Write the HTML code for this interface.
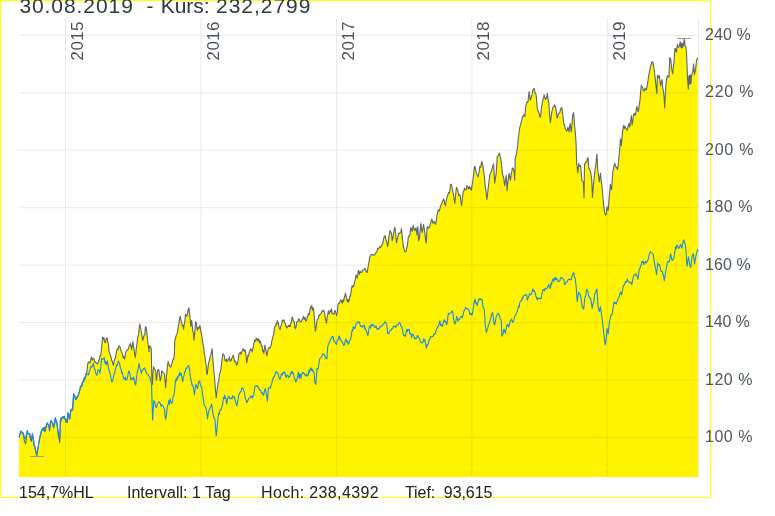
<!DOCTYPE html>
<html><head><meta charset="utf-8"><title>Chart</title>
<style>
html,body{margin:0;padding:0;background:#fff;}
body{width:775px;height:516px;overflow:hidden;position:relative;font-family:"Liberation Sans",sans-serif;}
svg{position:absolute;left:0;top:0;will-change:transform;}
text{font-family:"Liberation Sans",sans-serif;}
</style></head><body>
<svg width="775" height="516" viewBox="0 0 775 516">
<g stroke="#e9e9e9" stroke-width="1">
<line x1="19" y1="35.40" x2="698" y2="35.40"/>
<line x1="19" y1="92.83" x2="698" y2="92.83"/>
<line x1="19" y1="150.26" x2="698" y2="150.26"/>
<line x1="19" y1="207.69" x2="698" y2="207.69"/>
<line x1="19" y1="265.12" x2="698" y2="265.12"/>
<line x1="19" y1="322.55" x2="698" y2="322.55"/>
<line x1="19" y1="379.98" x2="698" y2="379.98"/>
<line x1="19" y1="437.41" x2="698" y2="437.41"/>
<line x1="65.50" y1="18" x2="65.50" y2="477"/>
<line x1="200.95" y1="18" x2="200.95" y2="477"/>
<line x1="336.40" y1="18" x2="336.40" y2="477"/>
<line x1="471.85" y1="18" x2="471.85" y2="477"/>
<line x1="607.30" y1="18" x2="607.30" y2="477"/>
<line x1="698.5" y1="18" x2="698.5" y2="477"/>
</g>
<path d="M19.1,477 L19.1,437.4 L19.7,435.2 L20.2,434.1 L20.8,431.6 L21.4,432.0 L22.1,432.5 L22.7,433.5 L23.3,434.5 L23.9,437.4 L24.4,441.1 L25.0,442.3 L25.6,443.9 L26.2,438.9 L26.9,432.3 L27.5,433.1 L28.0,433.7 L28.6,434.0 L29.2,434.2 L29.8,433.9 L30.4,438.8 L30.9,440.2 L31.5,441.3 L32.4,434.2 L33.1,438.9 L33.7,440.3 L34.4,446.5 L35.0,446.6 L35.5,449.9 L36.1,452.7 L36.7,455.5 L37.4,451.6 L38.2,446.8 L38.9,442.6 L39.5,440.2 L40.2,435.6 L40.9,433.8 L41.5,430.3 L42.1,430.1 L42.8,428.2 L43.4,430.5 L44.0,427.7 L44.9,431.6 L45.5,429.8 L46.0,428.1 L46.6,424.5 L47.3,424.2 L48.1,424.4 L48.8,425.8 L49.6,431.0 L50.5,421.9 L51.1,421.9 L51.8,422.6 L52.4,423.2 L53.0,426.0 L53.7,427.7 L54.5,423.1 L55.3,418.0 L56.1,420.2 L56.9,423.2 L57.5,428.2 L58.2,434.8 L59.0,438.2 L59.8,442.6 L60.4,420.6 L61.0,421.2 L61.7,417.7 L62.4,418.1 L63.0,416.8 L63.6,418.0 L64.2,416.2 L64.7,418.8 L65.3,419.4 L66.0,422.1 L66.6,419.0 L67.3,422.6 L67.9,412.9 L68.5,414.2 L69.2,416.2 L69.8,418.0 L70.7,410.3 L71.4,409.1 L72.1,410.5 L72.8,409.7 L73.7,393.5 L74.3,395.3 L74.9,395.5 L75.5,399.0 L76.1,398.9 L76.7,397.6 L77.4,396.9 L78.0,396.3 L78.6,393.5 L79.2,392.1 L79.8,389.9 L80.3,386.3 L80.9,386.0 L81.5,385.5 L82.1,382.7 L82.7,381.7 L83.3,381.0 L83.9,378.3 L84.4,377.5 L85.0,377.0 L85.6,376.5 L86.4,372.5 L87.0,371.5 L87.6,364.7 L88.1,362.8 L88.7,362.0 L89.3,361.8 L89.8,363.0 L90.4,361.6 L91.0,358.1 L91.6,356.9 L92.2,360.1 L92.7,358.7 L93.3,358.9 L93.9,358.6 L94.4,361.5 L95.0,362.3 L95.5,361.8 L96.1,362.6 L96.6,363.3 L97.2,363.6 L97.8,363.9 L98.3,361.8 L98.9,360.3 L99.5,359.1 L100.0,355.5 L100.6,355.8 L101.3,351.2 L101.9,344.6 L102.6,337.2 L103.2,339.2 L103.8,337.4 L104.4,340.5 L105.0,342.6 L105.6,342.5 L106.2,338.0 L106.7,338.9 L107.3,338.0 L107.9,342.9 L108.4,343.7 L109.0,351.0 L109.6,352.7 L110.2,355.0 L110.7,356.1 L111.3,358.4 L111.8,360.6 L112.4,361.7 L112.9,364.3 L113.5,365.1 L114.1,361.5 L114.7,359.0 L115.4,358.1 L116.0,354.0 L116.6,351.2 L117.2,348.7 L117.8,349.6 L118.3,348.9 L118.9,345.7 L119.5,346.5 L120.1,346.7 L120.6,349.7 L121.2,351.2 L121.8,352.6 L122.4,353.9 L123.1,357.6 L123.7,356.2 L124.3,358.9 L124.9,358.4 L125.5,353.1 L126.1,351.5 L126.7,350.4 L127.3,349.9 L128.0,349.5 L128.6,348.0 L129.2,346.2 L129.9,344.7 L130.5,343.4 L131.6,349.6 L132.2,345.9 L132.9,341.9 L133.5,346.5 L134.1,349.4 L134.6,353.9 L135.2,357.4 L135.8,353.5 L136.3,348.1 L136.9,344.4 L137.5,338.8 L138.1,335.8 L138.7,333.9 L139.2,328.1 L139.8,324.0 L140.4,326.8 L141.0,330.1 L141.7,333.8 L142.3,338.1 L142.9,340.3 L143.5,337.3 L144.1,335.5 L144.8,334.7 L145.4,326.7 L146.0,327.1 L146.8,332.4 L147.6,340.0 L148.3,346.2 L149.1,351.6 L149.5,345.8 L150.1,346.4 L150.7,346.6 L151.3,349.3 L151.8,378.0 L152.4,384.4 L153.0,372.0 L153.6,366.9 L154.6,369.0 L155.7,371.0 L156.3,380.5 L157.0,376.0 L157.6,370.2 L158.2,370.1 L158.8,369.5 L159.6,376.0 L160.3,381.0 L161.2,376.0 L161.9,370.6 L162.5,371.8 L163.1,372.6 L163.8,373.1 L164.6,374.5 L165.6,387.6 L166.5,376.0 L167.3,367.9 L168.1,361.3 L168.9,364.0 L169.5,365.8 L170.2,366.4 L170.8,367.1 L171.4,364.8 L172.0,363.3 L173.1,359.0 L173.7,359.1 L174.3,355.5 L174.8,340.0 L175.5,338.6 L176.1,335.6 L176.8,334.3 L177.4,332.6 L178.1,327.7 L178.9,323.2 L179.6,318.6 L180.3,316.2 L180.9,320.1 L181.6,321.7 L182.3,325.6 L182.9,325.4 L183.6,329.5 L184.2,324.3 L184.9,320.3 L185.5,314.0 L186.1,315.3 L186.8,316.2 L187.4,314.7 L188.2,309.7 L188.9,307.8 L189.6,313.6 L190.2,319.8 L190.9,326.4 L191.7,320.2 L192.3,326.0 L192.8,331.6 L193.4,331.9 L194.0,340.3 L194.8,332.1 L195.6,321.7 L196.3,322.7 L196.9,328.2 L197.6,330.2 L198.2,327.2 L198.8,328.1 L199.3,328.2 L199.9,325.6 L200.5,328.8 L201.2,332.6 L201.8,335.7 L202.4,340.7 L203.0,343.9 L203.7,347.6 L204.3,353.6 L204.9,355.8 L205.5,361.8 L206.1,364.7 L206.6,373.2 L207.2,374.4 L208.0,367.1 L208.8,362.0 L209.4,360.7 L209.9,357.3 L210.5,355.6 L211.1,354.1 L211.6,351.2 L212.2,348.8 L212.9,359.9 L213.7,369.8 L214.3,374.9 L214.9,382.0 L215.6,391.7 L216.2,398.0 L216.8,392.4 L217.4,387.7 L218.1,382.7 L218.7,381.5 L219.3,375.5 L220.0,372.6 L220.8,369.7 L221.5,364.0 L222.2,357.9 L223.0,353.5 L223.6,354.9 L224.1,354.9 L224.7,358.7 L225.2,361.0 L225.8,360.5 L226.4,359.1 L227.0,361.8 L227.7,360.8 L228.3,359.0 L228.9,358.9 L229.5,356.8 L230.1,361.5 L230.6,360.0 L231.2,360.5 L231.9,357.9 L232.6,357.3 L233.3,355.0 L233.9,357.8 L234.5,361.4 L235.1,362.0 L235.7,361.1 L236.2,364.2 L236.8,365.1 L237.4,363.6 L238.2,360.0 L239.0,353.5 L239.6,353.1 L240.2,352.2 L240.7,354.2 L241.3,352.7 L242.1,350.9 L242.9,348.8 L243.5,349.4 L244.1,351.4 L244.6,349.7 L245.2,350.4 L245.9,354.4 L246.7,362.8 L247.3,359.8 L247.9,355.4 L248.5,356.2 L249.1,352.7 L249.8,351.0 L250.6,348.8 L251.4,349.7 L252.2,351.9 L252.8,349.0 L253.3,347.1 L253.9,343.3 L254.5,340.3 L255.1,341.4 L255.7,339.1 L256.2,339.9 L256.8,338.0 L257.4,340.4 L258.0,341.2 L258.5,338.9 L259.1,340.3 L259.7,342.9 L260.3,341.1 L260.9,343.6 L261.5,346.5 L262.1,345.8 L262.6,351.3 L263.2,350.2 L263.8,353.5 L264.9,345.0 L265.6,348.6 L266.2,352.0 L266.9,355.8 L267.6,351.9 L268.4,348.1 L269.2,347.5 L270.0,348.1 L270.6,345.9 L271.2,345.4 L271.9,340.7 L272.5,338.8 L273.1,335.7 L273.7,334.4 L274.2,330.4 L274.8,326.6 L275.4,325.6 L276.0,323.9 L276.6,325.0 L277.2,320.6 L277.8,321.7 L278.4,322.9 L279.0,326.9 L279.5,328.5 L280.1,329.5 L280.8,326.4 L281.6,324.3 L282.3,320.2 L282.9,321.0 L283.5,319.9 L284.1,320.0 L284.7,322.6 L285.3,323.2 L285.9,326.5 L286.4,325.9 L287.0,328.0 L287.6,326.6 L288.2,326.4 L288.9,325.1 L289.5,326.6 L290.1,326.4 L290.8,322.8 L291.4,322.6 L292.1,317.1 L292.7,317.9 L293.3,320.5 L293.8,321.5 L294.4,322.0 L294.9,327.5 L295.5,328.8 L296.1,326.5 L296.7,322.0 L297.4,321.6 L298.0,321.1 L298.6,318.7 L299.2,318.9 L299.8,321.2 L300.3,322.0 L300.9,321.8 L301.5,321.3 L302.1,319.5 L302.7,319.4 L303.3,316.4 L303.9,318.4 L304.5,319.3 L305.0,317.2 L305.6,321.0 L306.2,320.8 L306.8,319.9 L307.3,316.6 L307.9,315.6 L308.5,313.5 L309.2,314.8 L309.8,310.9 L310.5,306.9 L311.1,307.9 L311.8,305.5 L312.5,310.3 L313.1,307.9 L313.8,310.9 L314.6,321.6 L315.3,331.1 L315.9,329.5 L316.6,323.2 L317.2,319.5 L317.8,319.2 L318.4,318.7 L318.9,315.4 L319.5,315.6 L320.1,314.3 L320.7,313.6 L321.3,313.1 L321.9,310.9 L322.5,311.1 L323.0,311.1 L323.6,310.2 L324.2,311.7 L324.8,314.2 L325.4,318.6 L325.9,320.5 L326.5,323.3 L327.1,318.2 L327.8,314.0 L328.4,310.9 L329.1,314.0 L329.7,311.9 L330.4,310.2 L331.0,311.9 L331.5,308.9 L332.1,313.8 L332.7,314.0 L333.3,313.7 L333.9,314.2 L334.4,311.7 L335.0,310.2 L335.8,312.8 L336.6,315.6 L337.3,312.1 L337.9,304.9 L338.6,303.2 L339.2,303.7 L339.9,302.1 L340.6,300.0 L341.2,300.1 L341.8,302.1 L342.4,303.1 L343.0,299.5 L343.6,301.6 L344.2,298.0 L344.8,296.3 L345.4,293.1 L346.1,296.2 L346.7,298.3 L347.4,301.6 L348.0,299.4 L348.6,302.1 L349.3,299.7 L349.9,295.9 L350.5,296.2 L351.3,289.7 L352.1,285.9 L352.7,287.3 L353.2,285.6 L353.8,285.9 L354.4,282.8 L355.2,279.7 L356.0,275.0 L356.6,275.9 L357.2,278.1 L357.8,274.4 L358.3,270.4 L359.4,274.3 L360.0,271.1 L360.5,272.1 L361.1,272.4 L361.6,272.4 L362.2,271.2 L362.8,269.7 L363.3,269.8 L363.9,269.9 L364.4,269.2 L365.0,268.1 L365.7,270.4 L366.4,271.4 L367.1,272.7 L367.8,268.6 L368.4,265.0 L369.1,261.4 L369.9,256.4 L370.5,256.1 L371.0,254.6 L371.6,254.5 L372.2,254.9 L372.8,254.9 L373.4,254.8 L374.0,255.1 L374.6,254.9 L375.4,253.7 L376.1,252.6 L376.7,251.8 L377.2,250.5 L377.8,248.1 L378.4,248.7 L379.2,248.0 L380.0,246.5 L380.6,247.4 L381.1,246.2 L381.7,245.0 L382.3,244.8 L383.0,242.6 L383.7,238.1 L384.4,236.6 L385.1,235.6 L385.7,239.4 L386.4,240.7 L387.0,242.9 L387.6,246.5 L388.2,243.1 L388.9,236.7 L389.5,233.7 L390.1,230.4 L390.8,232.1 L391.4,233.1 L392.2,240.7 L392.9,237.8 L393.7,232.0 L394.3,229.4 L394.9,227.3 L395.7,233.8 L396.5,243.0 L397.2,238.7 L397.9,237.1 L398.6,233.1 L399.2,233.5 L399.7,233.0 L400.3,232.6 L400.9,231.7 L401.5,228.5 L402.1,235.3 L402.7,240.5 L403.3,246.5 L403.9,248.5 L404.5,251.2 L405.0,251.6 L405.6,251.7 L406.2,251.1 L406.7,247.1 L407.3,246.5 L407.9,241.1 L408.5,236.0 L409.2,236.1 L410.0,234.9 L410.8,227.3 L411.4,229.1 L412.0,231.4 L412.6,228.9 L413.1,225.0 L413.7,228.0 L414.3,230.2 L414.9,230.4 L415.4,228.4 L416.0,227.9 L417.0,234.9 L417.8,226.2 L418.6,240.7 L419.4,238.4 L420.1,231.4 L420.9,223.3 L421.5,228.9 L422.1,232.6 L422.9,228.3 L423.6,224.4 L424.4,229.7 L425.1,234.9 L425.7,240.9 L426.3,243.0 L427.1,226.7 L427.7,226.7 L428.2,228.4 L428.8,227.9 L429.4,227.5 L430.0,224.8 L430.6,223.3 L431.7,219.2 L432.3,220.4 L432.9,223.3 L433.5,222.5 L434.1,221.5 L434.9,223.3 L435.6,224.4 L436.3,220.7 L437.0,215.1 L437.6,213.0 L438.1,209.9 L438.7,210.5 L439.3,211.0 L439.9,209.0 L440.5,205.8 L441.1,205.2 L441.6,203.7 L442.2,202.3 L442.9,200.6 L443.5,198.8 L444.2,200.8 L444.8,204.3 L445.5,205.8 L446.1,201.2 L446.8,198.3 L447.4,195.7 L448.0,194.9 L448.6,192.5 L449.2,193.4 L449.9,189.8 L450.5,184.7 L451.2,184.1 L451.9,186.3 L452.6,191.0 L453.3,193.4 L454.1,199.0 L454.8,203.5 L455.6,195.3 L456.4,187.2 L457.0,188.7 L457.6,189.2 L458.2,192.6 L458.8,195.6 L459.5,194.8 L460.1,195.0 L460.9,201.4 L461.6,205.8 L462.4,198.0 L463.2,191.9 L463.9,190.9 L464.5,188.0 L465.2,189.5 L465.8,189.9 L466.4,189.5 L466.9,185.4 L467.5,187.2 L468.1,187.5 L468.6,188.8 L469.2,186.2 L469.8,188.8 L470.6,187.7 L471.4,190.3 L472.1,184.7 L472.9,181.0 L473.7,173.0 L474.5,166.3 L475.2,166.9 L475.8,171.0 L476.5,173.3 L477.3,175.4 L478.1,177.1 L478.7,174.2 L479.3,170.7 L479.9,166.3 L480.5,167.2 L481.0,165.8 L481.6,161.7 L482.2,162.4 L483.0,166.9 L483.8,172.5 L484.6,178.9 L485.3,187.2 L486.1,192.3 L486.9,199.6 L487.5,194.5 L488.0,189.6 L488.6,185.1 L489.2,179.5 L489.8,175.2 L490.4,173.3 L491.0,172.5 L491.6,170.2 L492.3,167.9 L492.9,165.7 L493.6,164.0 L494.7,183.3 L495.4,178.2 L496.2,173.3 L496.8,164.2 L497.3,156.2 L498.0,156.0 L498.6,154.6 L499.3,153.1 L500.1,156.1 L500.9,159.3 L501.6,165.7 L502.4,173.3 L503.0,176.2 L503.5,176.1 L504.1,181.4 L504.7,185.7 L505.4,180.5 L506.2,175.3 L507.1,190.4 L507.7,182.9 L508.4,179.2 L509.0,173.3 L509.8,176.9 L510.5,180.3 L511.1,174.5 L511.8,171.7 L512.4,167.9 L513.2,168.7 L514.0,170.2 L514.7,180.3 L515.2,158.6 L515.8,156.3 L516.5,153.6 L517.1,150.0 L517.7,144.9 L518.2,138.7 L518.8,134.5 L519.4,129.6 L520.1,126.4 L520.9,123.4 L521.7,120.6 L522.5,116.4 L523.1,116.8 L523.6,115.5 L524.2,114.7 L524.8,116.4 L525.4,110.3 L526.0,104.8 L526.6,103.2 L527.3,101.9 L527.9,102.5 L528.5,97.0 L529.1,91.6 L529.7,95.6 L530.2,100.2 L531.0,98.0 L531.8,95.5 L532.3,93.2 L532.9,90.1 L533.6,88.9 L534.4,88.5 L535.2,93.6 L536.0,94.0 L536.6,100.3 L537.2,107.1 L538.0,111.0 L538.8,112.6 L539.4,114.3 L540.0,116.9 L540.6,117.2 L541.4,107.9 L542.2,103.3 L542.9,99.5 L543.5,97.9 L544.2,94.7 L545.3,99.4 L546.0,98.1 L546.6,98.2 L547.3,93.2 L548.0,98.6 L548.8,103.3 L549.6,114.2 L550.4,122.6 L551.1,117.5 L551.9,111.0 L552.5,109.7 L553.0,107.1 L553.8,106.5 L554.6,104.8 L555.4,107.0 L556.1,109.5 L557.1,118.0 L557.7,117.0 L558.3,113.7 L558.9,113.3 L559.7,112.6 L560.5,109.5 L561.2,107.7 L562.0,107.9 L562.6,113.6 L563.3,118.8 L563.9,124.3 L564.5,124.7 L565.1,128.1 L565.9,129.7 L566.7,131.2 L567.3,130.1 L567.9,127.3 L568.5,129.6 L569.0,131.9 L569.5,127.1 L570.1,123.4 L570.7,127.8 L571.3,131.9 L572.0,124.3 L572.6,115.7 L573.6,112.6 L574.2,120.0 L574.7,126.5 L575.4,133.6 L576.0,142.0 L576.7,163.3 L577.8,172.6 L578.8,163.3 L579.4,166.0 L580.0,166.7 L580.6,165.6 L581.2,173.0 L581.9,180.3 L582.6,181.4 L583.4,181.9 L584.0,197.4 L584.5,164.8 L585.2,162.8 L586.0,161.7 L586.7,162.2 L587.4,158.2 L588.1,157.8 L588.7,167.1 L589.4,169.8 L590.0,170.2 L590.7,172.6 L591.8,180.3 L592.4,197.4 L593.3,186.5 L594.1,178.1 L594.9,171.0 L595.6,166.2 L596.2,161.3 L596.9,154.0 L597.7,168.7 L598.5,175.3 L599.2,181.9 L599.9,177.0 L600.5,173.3 L601.2,180.7 L602.0,186.5 L602.8,195.8 L603.6,205.1 L604.2,209.2 L604.7,212.9 L605.5,215.1 L606.2,214.4 L607.0,206.7 L607.6,209.4 L608.2,210.5 L608.8,202.0 L609.6,192.6 L610.4,184.2 L611.0,188.6 L611.6,189.6 L612.2,180.3 L612.9,171.0 L613.5,169.3 L614.1,165.1 L614.7,163.3 L615.5,165.6 L616.3,167.9 L616.9,167.4 L617.5,169.5 L618.3,164.3 L619.1,155.5 L619.8,148.3 L620.5,138.8 L621.3,145.8 L622.0,138.1 L622.6,131.5 L623.3,127.2 L623.8,125.2 L624.4,128.7 L625.0,126.6 L625.5,127.2 L626.2,128.7 L627.0,130.3 L627.7,127.6 L628.3,125.5 L629.0,123.3 L629.8,127.2 L630.6,120.3 L631.4,115.6 L632.1,124.9 L632.8,121.1 L633.4,115.4 L634.1,113.3 L634.7,114.4 L635.2,115.6 L636.0,111.3 L636.8,106.3 L637.5,109.4 L638.3,111.7 L639.1,106.1 L639.9,100.9 L640.6,92.1 L641.4,85.0 L642.1,87.0 L642.7,88.1 L643.4,90.5 L644.2,90.9 L645.0,88.1 L645.8,89.7 L646.6,89.7 L647.4,84.5 L648.1,79.6 L648.9,74.5 L649.7,70.3 L650.5,66.5 L651.2,64.1 L652.0,62.0 L652.8,61.8 L653.5,65.7 L654.3,70.3 L654.8,75.2 L655.4,79.6 L656.1,87.1 L656.9,93.6 L657.4,75.0 L658.0,75.9 L658.7,78.0 L659.3,75.7 L659.9,80.2 L660.5,85.8 L661.2,82.7 L662.0,79.6 L662.8,88.6 L663.6,92.0 L664.2,98.7 L664.7,108.0 L665.8,85.8 L666.5,80.3 L667.3,75.7 L668.1,76.5 L668.9,77.0 L669.8,57.5 L670.7,59.0 L671.7,69.0 L672.7,73.6 L673.1,69.3 L674.1,61.0 L674.9,48.6 L675.5,48.6 L676.4,52.1 L677.4,44.3 L678.1,47.4 L679.1,46.7 L679.7,44.3 L680.2,41.6 L680.7,47.0 L681.1,43.0 L681.6,48.0 L682.0,44.0 L682.5,47.8 L683.0,43.0 L683.4,46.0 L683.8,42.4 L684.4,38.9 L685.0,45.9 L685.9,46.7 L686.5,53.3 L687.0,65.0 L687.4,76.0 L687.9,83.0 L688.3,89.0 L688.8,76.0 L689.2,84.0 L689.7,75.0 L690.1,84.0 L690.6,75.0 L691.0,83.5 L691.5,76.0 L692.2,73.6 L693.0,71.3 L693.5,63.9 L694.5,74.4 L695.1,71.5 L695.7,68.0 L696.5,60.5 L697.1,58.8 L697.7,57.5 L698.0,477 Z" fill="#fff300"/>
<clipPath id="c"><path d="M19.1,477 L19.1,437.4 L19.7,435.2 L20.2,434.1 L20.8,431.6 L21.4,432.0 L22.1,432.5 L22.7,433.5 L23.3,434.5 L23.9,437.4 L24.4,441.1 L25.0,442.3 L25.6,443.9 L26.2,438.9 L26.9,432.3 L27.5,433.1 L28.0,433.7 L28.6,434.0 L29.2,434.2 L29.8,433.9 L30.4,438.8 L30.9,440.2 L31.5,441.3 L32.4,434.2 L33.1,438.9 L33.7,440.3 L34.4,446.5 L35.0,446.6 L35.5,449.9 L36.1,452.7 L36.7,455.5 L37.4,451.6 L38.2,446.8 L38.9,442.6 L39.5,440.2 L40.2,435.6 L40.9,433.8 L41.5,430.3 L42.1,430.1 L42.8,428.2 L43.4,430.5 L44.0,427.7 L44.9,431.6 L45.5,429.8 L46.0,428.1 L46.6,424.5 L47.3,424.2 L48.1,424.4 L48.8,425.8 L49.6,431.0 L50.5,421.9 L51.1,421.9 L51.8,422.6 L52.4,423.2 L53.0,426.0 L53.7,427.7 L54.5,423.1 L55.3,418.0 L56.1,420.2 L56.9,423.2 L57.5,428.2 L58.2,434.8 L59.0,438.2 L59.8,442.6 L60.4,420.6 L61.0,421.2 L61.7,417.7 L62.4,418.1 L63.0,416.8 L63.6,418.0 L64.2,416.2 L64.7,418.8 L65.3,419.4 L66.0,422.1 L66.6,419.0 L67.3,422.6 L67.9,412.9 L68.5,414.2 L69.2,416.2 L69.8,418.0 L70.7,410.3 L71.4,409.1 L72.1,410.5 L72.8,409.7 L73.7,393.5 L74.3,395.3 L74.9,395.5 L75.5,399.0 L76.1,398.9 L76.7,397.6 L77.4,396.9 L78.0,396.3 L78.6,393.5 L79.2,392.1 L79.8,389.9 L80.3,386.3 L80.9,386.0 L81.5,385.5 L82.1,382.7 L82.7,381.7 L83.3,381.0 L83.9,378.3 L84.4,377.5 L85.0,377.0 L85.6,376.5 L86.4,372.5 L87.0,371.5 L87.6,364.7 L88.1,362.8 L88.7,362.0 L89.3,361.8 L89.8,363.0 L90.4,361.6 L91.0,358.1 L91.6,356.9 L92.2,360.1 L92.7,358.7 L93.3,358.9 L93.9,358.6 L94.4,361.5 L95.0,362.3 L95.5,361.8 L96.1,362.6 L96.6,363.3 L97.2,363.6 L97.8,363.9 L98.3,361.8 L98.9,360.3 L99.5,359.1 L100.0,355.5 L100.6,355.8 L101.3,351.2 L101.9,344.6 L102.6,337.2 L103.2,339.2 L103.8,337.4 L104.4,340.5 L105.0,342.6 L105.6,342.5 L106.2,338.0 L106.7,338.9 L107.3,338.0 L107.9,342.9 L108.4,343.7 L109.0,351.0 L109.6,352.7 L110.2,355.0 L110.7,356.1 L111.3,358.4 L111.8,360.6 L112.4,361.7 L112.9,364.3 L113.5,365.1 L114.1,361.5 L114.7,359.0 L115.4,358.1 L116.0,354.0 L116.6,351.2 L117.2,348.7 L117.8,349.6 L118.3,348.9 L118.9,345.7 L119.5,346.5 L120.1,346.7 L120.6,349.7 L121.2,351.2 L121.8,352.6 L122.4,353.9 L123.1,357.6 L123.7,356.2 L124.3,358.9 L124.9,358.4 L125.5,353.1 L126.1,351.5 L126.7,350.4 L127.3,349.9 L128.0,349.5 L128.6,348.0 L129.2,346.2 L129.9,344.7 L130.5,343.4 L131.6,349.6 L132.2,345.9 L132.9,341.9 L133.5,346.5 L134.1,349.4 L134.6,353.9 L135.2,357.4 L135.8,353.5 L136.3,348.1 L136.9,344.4 L137.5,338.8 L138.1,335.8 L138.7,333.9 L139.2,328.1 L139.8,324.0 L140.4,326.8 L141.0,330.1 L141.7,333.8 L142.3,338.1 L142.9,340.3 L143.5,337.3 L144.1,335.5 L144.8,334.7 L145.4,326.7 L146.0,327.1 L146.8,332.4 L147.6,340.0 L148.3,346.2 L149.1,351.6 L149.5,345.8 L150.1,346.4 L150.7,346.6 L151.3,349.3 L151.8,378.0 L152.4,384.4 L153.0,372.0 L153.6,366.9 L154.6,369.0 L155.7,371.0 L156.3,380.5 L157.0,376.0 L157.6,370.2 L158.2,370.1 L158.8,369.5 L159.6,376.0 L160.3,381.0 L161.2,376.0 L161.9,370.6 L162.5,371.8 L163.1,372.6 L163.8,373.1 L164.6,374.5 L165.6,387.6 L166.5,376.0 L167.3,367.9 L168.1,361.3 L168.9,364.0 L169.5,365.8 L170.2,366.4 L170.8,367.1 L171.4,364.8 L172.0,363.3 L173.1,359.0 L173.7,359.1 L174.3,355.5 L174.8,340.0 L175.5,338.6 L176.1,335.6 L176.8,334.3 L177.4,332.6 L178.1,327.7 L178.9,323.2 L179.6,318.6 L180.3,316.2 L180.9,320.1 L181.6,321.7 L182.3,325.6 L182.9,325.4 L183.6,329.5 L184.2,324.3 L184.9,320.3 L185.5,314.0 L186.1,315.3 L186.8,316.2 L187.4,314.7 L188.2,309.7 L188.9,307.8 L189.6,313.6 L190.2,319.8 L190.9,326.4 L191.7,320.2 L192.3,326.0 L192.8,331.6 L193.4,331.9 L194.0,340.3 L194.8,332.1 L195.6,321.7 L196.3,322.7 L196.9,328.2 L197.6,330.2 L198.2,327.2 L198.8,328.1 L199.3,328.2 L199.9,325.6 L200.5,328.8 L201.2,332.6 L201.8,335.7 L202.4,340.7 L203.0,343.9 L203.7,347.6 L204.3,353.6 L204.9,355.8 L205.5,361.8 L206.1,364.7 L206.6,373.2 L207.2,374.4 L208.0,367.1 L208.8,362.0 L209.4,360.7 L209.9,357.3 L210.5,355.6 L211.1,354.1 L211.6,351.2 L212.2,348.8 L212.9,359.9 L213.7,369.8 L214.3,374.9 L214.9,382.0 L215.6,391.7 L216.2,398.0 L216.8,392.4 L217.4,387.7 L218.1,382.7 L218.7,381.5 L219.3,375.5 L220.0,372.6 L220.8,369.7 L221.5,364.0 L222.2,357.9 L223.0,353.5 L223.6,354.9 L224.1,354.9 L224.7,358.7 L225.2,361.0 L225.8,360.5 L226.4,359.1 L227.0,361.8 L227.7,360.8 L228.3,359.0 L228.9,358.9 L229.5,356.8 L230.1,361.5 L230.6,360.0 L231.2,360.5 L231.9,357.9 L232.6,357.3 L233.3,355.0 L233.9,357.8 L234.5,361.4 L235.1,362.0 L235.7,361.1 L236.2,364.2 L236.8,365.1 L237.4,363.6 L238.2,360.0 L239.0,353.5 L239.6,353.1 L240.2,352.2 L240.7,354.2 L241.3,352.7 L242.1,350.9 L242.9,348.8 L243.5,349.4 L244.1,351.4 L244.6,349.7 L245.2,350.4 L245.9,354.4 L246.7,362.8 L247.3,359.8 L247.9,355.4 L248.5,356.2 L249.1,352.7 L249.8,351.0 L250.6,348.8 L251.4,349.7 L252.2,351.9 L252.8,349.0 L253.3,347.1 L253.9,343.3 L254.5,340.3 L255.1,341.4 L255.7,339.1 L256.2,339.9 L256.8,338.0 L257.4,340.4 L258.0,341.2 L258.5,338.9 L259.1,340.3 L259.7,342.9 L260.3,341.1 L260.9,343.6 L261.5,346.5 L262.1,345.8 L262.6,351.3 L263.2,350.2 L263.8,353.5 L264.9,345.0 L265.6,348.6 L266.2,352.0 L266.9,355.8 L267.6,351.9 L268.4,348.1 L269.2,347.5 L270.0,348.1 L270.6,345.9 L271.2,345.4 L271.9,340.7 L272.5,338.8 L273.1,335.7 L273.7,334.4 L274.2,330.4 L274.8,326.6 L275.4,325.6 L276.0,323.9 L276.6,325.0 L277.2,320.6 L277.8,321.7 L278.4,322.9 L279.0,326.9 L279.5,328.5 L280.1,329.5 L280.8,326.4 L281.6,324.3 L282.3,320.2 L282.9,321.0 L283.5,319.9 L284.1,320.0 L284.7,322.6 L285.3,323.2 L285.9,326.5 L286.4,325.9 L287.0,328.0 L287.6,326.6 L288.2,326.4 L288.9,325.1 L289.5,326.6 L290.1,326.4 L290.8,322.8 L291.4,322.6 L292.1,317.1 L292.7,317.9 L293.3,320.5 L293.8,321.5 L294.4,322.0 L294.9,327.5 L295.5,328.8 L296.1,326.5 L296.7,322.0 L297.4,321.6 L298.0,321.1 L298.6,318.7 L299.2,318.9 L299.8,321.2 L300.3,322.0 L300.9,321.8 L301.5,321.3 L302.1,319.5 L302.7,319.4 L303.3,316.4 L303.9,318.4 L304.5,319.3 L305.0,317.2 L305.6,321.0 L306.2,320.8 L306.8,319.9 L307.3,316.6 L307.9,315.6 L308.5,313.5 L309.2,314.8 L309.8,310.9 L310.5,306.9 L311.1,307.9 L311.8,305.5 L312.5,310.3 L313.1,307.9 L313.8,310.9 L314.6,321.6 L315.3,331.1 L315.9,329.5 L316.6,323.2 L317.2,319.5 L317.8,319.2 L318.4,318.7 L318.9,315.4 L319.5,315.6 L320.1,314.3 L320.7,313.6 L321.3,313.1 L321.9,310.9 L322.5,311.1 L323.0,311.1 L323.6,310.2 L324.2,311.7 L324.8,314.2 L325.4,318.6 L325.9,320.5 L326.5,323.3 L327.1,318.2 L327.8,314.0 L328.4,310.9 L329.1,314.0 L329.7,311.9 L330.4,310.2 L331.0,311.9 L331.5,308.9 L332.1,313.8 L332.7,314.0 L333.3,313.7 L333.9,314.2 L334.4,311.7 L335.0,310.2 L335.8,312.8 L336.6,315.6 L337.3,312.1 L337.9,304.9 L338.6,303.2 L339.2,303.7 L339.9,302.1 L340.6,300.0 L341.2,300.1 L341.8,302.1 L342.4,303.1 L343.0,299.5 L343.6,301.6 L344.2,298.0 L344.8,296.3 L345.4,293.1 L346.1,296.2 L346.7,298.3 L347.4,301.6 L348.0,299.4 L348.6,302.1 L349.3,299.7 L349.9,295.9 L350.5,296.2 L351.3,289.7 L352.1,285.9 L352.7,287.3 L353.2,285.6 L353.8,285.9 L354.4,282.8 L355.2,279.7 L356.0,275.0 L356.6,275.9 L357.2,278.1 L357.8,274.4 L358.3,270.4 L359.4,274.3 L360.0,271.1 L360.5,272.1 L361.1,272.4 L361.6,272.4 L362.2,271.2 L362.8,269.7 L363.3,269.8 L363.9,269.9 L364.4,269.2 L365.0,268.1 L365.7,270.4 L366.4,271.4 L367.1,272.7 L367.8,268.6 L368.4,265.0 L369.1,261.4 L369.9,256.4 L370.5,256.1 L371.0,254.6 L371.6,254.5 L372.2,254.9 L372.8,254.9 L373.4,254.8 L374.0,255.1 L374.6,254.9 L375.4,253.7 L376.1,252.6 L376.7,251.8 L377.2,250.5 L377.8,248.1 L378.4,248.7 L379.2,248.0 L380.0,246.5 L380.6,247.4 L381.1,246.2 L381.7,245.0 L382.3,244.8 L383.0,242.6 L383.7,238.1 L384.4,236.6 L385.1,235.6 L385.7,239.4 L386.4,240.7 L387.0,242.9 L387.6,246.5 L388.2,243.1 L388.9,236.7 L389.5,233.7 L390.1,230.4 L390.8,232.1 L391.4,233.1 L392.2,240.7 L392.9,237.8 L393.7,232.0 L394.3,229.4 L394.9,227.3 L395.7,233.8 L396.5,243.0 L397.2,238.7 L397.9,237.1 L398.6,233.1 L399.2,233.5 L399.7,233.0 L400.3,232.6 L400.9,231.7 L401.5,228.5 L402.1,235.3 L402.7,240.5 L403.3,246.5 L403.9,248.5 L404.5,251.2 L405.0,251.6 L405.6,251.7 L406.2,251.1 L406.7,247.1 L407.3,246.5 L407.9,241.1 L408.5,236.0 L409.2,236.1 L410.0,234.9 L410.8,227.3 L411.4,229.1 L412.0,231.4 L412.6,228.9 L413.1,225.0 L413.7,228.0 L414.3,230.2 L414.9,230.4 L415.4,228.4 L416.0,227.9 L417.0,234.9 L417.8,226.2 L418.6,240.7 L419.4,238.4 L420.1,231.4 L420.9,223.3 L421.5,228.9 L422.1,232.6 L422.9,228.3 L423.6,224.4 L424.4,229.7 L425.1,234.9 L425.7,240.9 L426.3,243.0 L427.1,226.7 L427.7,226.7 L428.2,228.4 L428.8,227.9 L429.4,227.5 L430.0,224.8 L430.6,223.3 L431.7,219.2 L432.3,220.4 L432.9,223.3 L433.5,222.5 L434.1,221.5 L434.9,223.3 L435.6,224.4 L436.3,220.7 L437.0,215.1 L437.6,213.0 L438.1,209.9 L438.7,210.5 L439.3,211.0 L439.9,209.0 L440.5,205.8 L441.1,205.2 L441.6,203.7 L442.2,202.3 L442.9,200.6 L443.5,198.8 L444.2,200.8 L444.8,204.3 L445.5,205.8 L446.1,201.2 L446.8,198.3 L447.4,195.7 L448.0,194.9 L448.6,192.5 L449.2,193.4 L449.9,189.8 L450.5,184.7 L451.2,184.1 L451.9,186.3 L452.6,191.0 L453.3,193.4 L454.1,199.0 L454.8,203.5 L455.6,195.3 L456.4,187.2 L457.0,188.7 L457.6,189.2 L458.2,192.6 L458.8,195.6 L459.5,194.8 L460.1,195.0 L460.9,201.4 L461.6,205.8 L462.4,198.0 L463.2,191.9 L463.9,190.9 L464.5,188.0 L465.2,189.5 L465.8,189.9 L466.4,189.5 L466.9,185.4 L467.5,187.2 L468.1,187.5 L468.6,188.8 L469.2,186.2 L469.8,188.8 L470.6,187.7 L471.4,190.3 L472.1,184.7 L472.9,181.0 L473.7,173.0 L474.5,166.3 L475.2,166.9 L475.8,171.0 L476.5,173.3 L477.3,175.4 L478.1,177.1 L478.7,174.2 L479.3,170.7 L479.9,166.3 L480.5,167.2 L481.0,165.8 L481.6,161.7 L482.2,162.4 L483.0,166.9 L483.8,172.5 L484.6,178.9 L485.3,187.2 L486.1,192.3 L486.9,199.6 L487.5,194.5 L488.0,189.6 L488.6,185.1 L489.2,179.5 L489.8,175.2 L490.4,173.3 L491.0,172.5 L491.6,170.2 L492.3,167.9 L492.9,165.7 L493.6,164.0 L494.7,183.3 L495.4,178.2 L496.2,173.3 L496.8,164.2 L497.3,156.2 L498.0,156.0 L498.6,154.6 L499.3,153.1 L500.1,156.1 L500.9,159.3 L501.6,165.7 L502.4,173.3 L503.0,176.2 L503.5,176.1 L504.1,181.4 L504.7,185.7 L505.4,180.5 L506.2,175.3 L507.1,190.4 L507.7,182.9 L508.4,179.2 L509.0,173.3 L509.8,176.9 L510.5,180.3 L511.1,174.5 L511.8,171.7 L512.4,167.9 L513.2,168.7 L514.0,170.2 L514.7,180.3 L515.2,158.6 L515.8,156.3 L516.5,153.6 L517.1,150.0 L517.7,144.9 L518.2,138.7 L518.8,134.5 L519.4,129.6 L520.1,126.4 L520.9,123.4 L521.7,120.6 L522.5,116.4 L523.1,116.8 L523.6,115.5 L524.2,114.7 L524.8,116.4 L525.4,110.3 L526.0,104.8 L526.6,103.2 L527.3,101.9 L527.9,102.5 L528.5,97.0 L529.1,91.6 L529.7,95.6 L530.2,100.2 L531.0,98.0 L531.8,95.5 L532.3,93.2 L532.9,90.1 L533.6,88.9 L534.4,88.5 L535.2,93.6 L536.0,94.0 L536.6,100.3 L537.2,107.1 L538.0,111.0 L538.8,112.6 L539.4,114.3 L540.0,116.9 L540.6,117.2 L541.4,107.9 L542.2,103.3 L542.9,99.5 L543.5,97.9 L544.2,94.7 L545.3,99.4 L546.0,98.1 L546.6,98.2 L547.3,93.2 L548.0,98.6 L548.8,103.3 L549.6,114.2 L550.4,122.6 L551.1,117.5 L551.9,111.0 L552.5,109.7 L553.0,107.1 L553.8,106.5 L554.6,104.8 L555.4,107.0 L556.1,109.5 L557.1,118.0 L557.7,117.0 L558.3,113.7 L558.9,113.3 L559.7,112.6 L560.5,109.5 L561.2,107.7 L562.0,107.9 L562.6,113.6 L563.3,118.8 L563.9,124.3 L564.5,124.7 L565.1,128.1 L565.9,129.7 L566.7,131.2 L567.3,130.1 L567.9,127.3 L568.5,129.6 L569.0,131.9 L569.5,127.1 L570.1,123.4 L570.7,127.8 L571.3,131.9 L572.0,124.3 L572.6,115.7 L573.6,112.6 L574.2,120.0 L574.7,126.5 L575.4,133.6 L576.0,142.0 L576.7,163.3 L577.8,172.6 L578.8,163.3 L579.4,166.0 L580.0,166.7 L580.6,165.6 L581.2,173.0 L581.9,180.3 L582.6,181.4 L583.4,181.9 L584.0,197.4 L584.5,164.8 L585.2,162.8 L586.0,161.7 L586.7,162.2 L587.4,158.2 L588.1,157.8 L588.7,167.1 L589.4,169.8 L590.0,170.2 L590.7,172.6 L591.8,180.3 L592.4,197.4 L593.3,186.5 L594.1,178.1 L594.9,171.0 L595.6,166.2 L596.2,161.3 L596.9,154.0 L597.7,168.7 L598.5,175.3 L599.2,181.9 L599.9,177.0 L600.5,173.3 L601.2,180.7 L602.0,186.5 L602.8,195.8 L603.6,205.1 L604.2,209.2 L604.7,212.9 L605.5,215.1 L606.2,214.4 L607.0,206.7 L607.6,209.4 L608.2,210.5 L608.8,202.0 L609.6,192.6 L610.4,184.2 L611.0,188.6 L611.6,189.6 L612.2,180.3 L612.9,171.0 L613.5,169.3 L614.1,165.1 L614.7,163.3 L615.5,165.6 L616.3,167.9 L616.9,167.4 L617.5,169.5 L618.3,164.3 L619.1,155.5 L619.8,148.3 L620.5,138.8 L621.3,145.8 L622.0,138.1 L622.6,131.5 L623.3,127.2 L623.8,125.2 L624.4,128.7 L625.0,126.6 L625.5,127.2 L626.2,128.7 L627.0,130.3 L627.7,127.6 L628.3,125.5 L629.0,123.3 L629.8,127.2 L630.6,120.3 L631.4,115.6 L632.1,124.9 L632.8,121.1 L633.4,115.4 L634.1,113.3 L634.7,114.4 L635.2,115.6 L636.0,111.3 L636.8,106.3 L637.5,109.4 L638.3,111.7 L639.1,106.1 L639.9,100.9 L640.6,92.1 L641.4,85.0 L642.1,87.0 L642.7,88.1 L643.4,90.5 L644.2,90.9 L645.0,88.1 L645.8,89.7 L646.6,89.7 L647.4,84.5 L648.1,79.6 L648.9,74.5 L649.7,70.3 L650.5,66.5 L651.2,64.1 L652.0,62.0 L652.8,61.8 L653.5,65.7 L654.3,70.3 L654.8,75.2 L655.4,79.6 L656.1,87.1 L656.9,93.6 L657.4,75.0 L658.0,75.9 L658.7,78.0 L659.3,75.7 L659.9,80.2 L660.5,85.8 L661.2,82.7 L662.0,79.6 L662.8,88.6 L663.6,92.0 L664.2,98.7 L664.7,108.0 L665.8,85.8 L666.5,80.3 L667.3,75.7 L668.1,76.5 L668.9,77.0 L669.8,57.5 L670.7,59.0 L671.7,69.0 L672.7,73.6 L673.1,69.3 L674.1,61.0 L674.9,48.6 L675.5,48.6 L676.4,52.1 L677.4,44.3 L678.1,47.4 L679.1,46.7 L679.7,44.3 L680.2,41.6 L680.7,47.0 L681.1,43.0 L681.6,48.0 L682.0,44.0 L682.5,47.8 L683.0,43.0 L683.4,46.0 L683.8,42.4 L684.4,38.9 L685.0,45.9 L685.9,46.7 L686.5,53.3 L687.0,65.0 L687.4,76.0 L687.9,83.0 L688.3,89.0 L688.8,76.0 L689.2,84.0 L689.7,75.0 L690.1,84.0 L690.6,75.0 L691.0,83.5 L691.5,76.0 L692.2,73.6 L693.0,71.3 L693.5,63.9 L694.5,74.4 L695.1,71.5 L695.7,68.0 L696.5,60.5 L697.1,58.8 L697.7,57.5 L698.0,477 Z"/></clipPath>
<g clip-path="url(#c)" stroke="#ece000" stroke-width="1">
<line x1="19" y1="35.40" x2="698" y2="35.40"/>
<line x1="19" y1="92.83" x2="698" y2="92.83"/>
<line x1="19" y1="150.26" x2="698" y2="150.26"/>
<line x1="19" y1="207.69" x2="698" y2="207.69"/>
<line x1="19" y1="265.12" x2="698" y2="265.12"/>
<line x1="19" y1="322.55" x2="698" y2="322.55"/>
<line x1="19" y1="379.98" x2="698" y2="379.98"/>
<line x1="19" y1="437.41" x2="698" y2="437.41"/>
<line x1="65.50" y1="18" x2="65.50" y2="477"/>
<line x1="200.95" y1="18" x2="200.95" y2="477"/>
<line x1="336.40" y1="18" x2="336.40" y2="477"/>
<line x1="471.85" y1="18" x2="471.85" y2="477"/>
<line x1="607.30" y1="18" x2="607.30" y2="477"/>
</g>
<path d="M19.1,437.4 L19.7,435.2 L20.2,434.1 L20.8,431.6 L21.4,432.0 L22.1,432.5 L22.7,433.5 L23.3,434.5 L23.9,437.4 L24.4,441.1 L25.0,442.3 L25.6,443.9 L26.2,438.9 L26.9,432.3 L27.5,433.1 L28.0,433.7 L28.6,434.0 L29.2,434.2 L29.8,433.9 L30.4,438.8 L30.9,440.2 L31.5,441.3 L32.4,434.2 L33.1,438.9 L33.7,440.3 L34.4,446.5 L35.0,446.6 L35.5,449.9 L36.1,452.7 L36.7,455.5 L37.4,451.6 L38.2,446.8 L38.9,442.6 L39.5,440.2 L40.2,435.6 L40.9,433.8 L41.5,430.3 L42.1,430.1 L42.8,428.2 L43.4,430.5 L44.0,427.7 L44.9,431.6 L45.5,429.8 L46.0,428.1 L46.6,424.5 L47.3,424.2 L48.1,424.4 L48.8,425.8 L49.6,431.0 L50.5,421.9 L51.1,421.9 L51.8,422.6 L52.4,423.2 L53.0,426.0 L53.7,427.7 L54.5,423.1 L55.3,418.0 L56.1,420.2 L56.9,423.2 L57.5,428.2 L58.2,434.8 L59.0,438.2 L59.8,442.6 L60.4,420.6 L61.0,421.2 L61.7,417.7 L62.4,418.1 L63.0,416.8 L63.6,418.0 L64.2,416.2 L64.7,418.8 L65.3,419.4 L66.0,422.1 L66.6,419.0 L67.3,422.6 L67.9,412.9 L68.5,414.2 L69.2,416.2 L69.8,418.0 L70.7,410.3 L71.4,409.1 L72.1,410.5 L72.8,409.7 L73.7,393.5 L74.3,395.3 L74.9,395.5 L75.5,399.0 L76.1,398.9 L76.7,397.6 L77.4,396.9 L78.0,396.3 L78.6,393.5 L79.2,392.1 L79.8,389.9 L80.3,386.3 L80.9,386.0 L81.5,385.5 L82.1,382.7 L82.7,381.7 L83.3,381.0 L83.9,378.3 L84.4,377.5 L85.0,377.0 L85.6,376.5 L86.4,372.5 L87.0,371.5 L87.6,364.7 L88.1,362.8 L88.7,362.0 L89.3,361.8 L89.8,363.0 L90.4,361.6 L91.0,358.1 L91.6,356.9 L92.2,360.1 L92.7,358.7 L93.3,358.9 L93.9,358.6 L94.4,361.5 L95.0,362.3 L95.5,361.8 L96.1,362.6 L96.6,363.3 L97.2,363.6 L97.8,363.9 L98.3,361.8 L98.9,360.3 L99.5,359.1 L100.0,355.5 L100.6,355.8 L101.3,351.2 L101.9,344.6 L102.6,337.2 L103.2,339.2 L103.8,337.4 L104.4,340.5 L105.0,342.6 L105.6,342.5 L106.2,338.0 L106.7,338.9 L107.3,338.0 L107.9,342.9 L108.4,343.7 L109.0,351.0 L109.6,352.7 L110.2,355.0 L110.7,356.1 L111.3,358.4 L111.8,360.6 L112.4,361.7 L112.9,364.3 L113.5,365.1 L114.1,361.5 L114.7,359.0 L115.4,358.1 L116.0,354.0 L116.6,351.2 L117.2,348.7 L117.8,349.6 L118.3,348.9 L118.9,345.7 L119.5,346.5 L120.1,346.7 L120.6,349.7 L121.2,351.2 L121.8,352.6 L122.4,353.9 L123.1,357.6 L123.7,356.2 L124.3,358.9 L124.9,358.4 L125.5,353.1 L126.1,351.5 L126.7,350.4 L127.3,349.9 L128.0,349.5 L128.6,348.0 L129.2,346.2 L129.9,344.7 L130.5,343.4 L131.6,349.6 L132.2,345.9 L132.9,341.9 L133.5,346.5 L134.1,349.4 L134.6,353.9 L135.2,357.4 L135.8,353.5 L136.3,348.1 L136.9,344.4 L137.5,338.8 L138.1,335.8 L138.7,333.9 L139.2,328.1 L139.8,324.0 L140.4,326.8 L141.0,330.1 L141.7,333.8 L142.3,338.1 L142.9,340.3 L143.5,337.3 L144.1,335.5 L144.8,334.7 L145.4,326.7 L146.0,327.1 L146.8,332.4 L147.6,340.0 L148.3,346.2 L149.1,351.6 L149.5,345.8 L150.1,346.4 L150.7,346.6 L151.3,349.3 L151.8,378.0 L152.4,384.4 L153.0,372.0 L153.6,366.9 L154.6,369.0 L155.7,371.0 L156.3,380.5 L157.0,376.0 L157.6,370.2 L158.2,370.1 L158.8,369.5 L159.6,376.0 L160.3,381.0 L161.2,376.0 L161.9,370.6 L162.5,371.8 L163.1,372.6 L163.8,373.1 L164.6,374.5 L165.6,387.6 L166.5,376.0 L167.3,367.9 L168.1,361.3 L168.9,364.0 L169.5,365.8 L170.2,366.4 L170.8,367.1 L171.4,364.8 L172.0,363.3 L173.1,359.0 L173.7,359.1 L174.3,355.5 L174.8,340.0 L175.5,338.6 L176.1,335.6 L176.8,334.3 L177.4,332.6 L178.1,327.7 L178.9,323.2 L179.6,318.6 L180.3,316.2 L180.9,320.1 L181.6,321.7 L182.3,325.6 L182.9,325.4 L183.6,329.5 L184.2,324.3 L184.9,320.3 L185.5,314.0 L186.1,315.3 L186.8,316.2 L187.4,314.7 L188.2,309.7 L188.9,307.8 L189.6,313.6 L190.2,319.8 L190.9,326.4 L191.7,320.2 L192.3,326.0 L192.8,331.6 L193.4,331.9 L194.0,340.3 L194.8,332.1 L195.6,321.7 L196.3,322.7 L196.9,328.2 L197.6,330.2 L198.2,327.2 L198.8,328.1 L199.3,328.2 L199.9,325.6 L200.5,328.8 L201.2,332.6 L201.8,335.7 L202.4,340.7 L203.0,343.9 L203.7,347.6 L204.3,353.6 L204.9,355.8 L205.5,361.8 L206.1,364.7 L206.6,373.2 L207.2,374.4 L208.0,367.1 L208.8,362.0 L209.4,360.7 L209.9,357.3 L210.5,355.6 L211.1,354.1 L211.6,351.2 L212.2,348.8 L212.9,359.9 L213.7,369.8 L214.3,374.9 L214.9,382.0 L215.6,391.7 L216.2,398.0 L216.8,392.4 L217.4,387.7 L218.1,382.7 L218.7,381.5 L219.3,375.5 L220.0,372.6 L220.8,369.7 L221.5,364.0 L222.2,357.9 L223.0,353.5 L223.6,354.9 L224.1,354.9 L224.7,358.7 L225.2,361.0 L225.8,360.5 L226.4,359.1 L227.0,361.8 L227.7,360.8 L228.3,359.0 L228.9,358.9 L229.5,356.8 L230.1,361.5 L230.6,360.0 L231.2,360.5 L231.9,357.9 L232.6,357.3 L233.3,355.0 L233.9,357.8 L234.5,361.4 L235.1,362.0 L235.7,361.1 L236.2,364.2 L236.8,365.1 L237.4,363.6 L238.2,360.0 L239.0,353.5 L239.6,353.1 L240.2,352.2 L240.7,354.2 L241.3,352.7 L242.1,350.9 L242.9,348.8 L243.5,349.4 L244.1,351.4 L244.6,349.7 L245.2,350.4 L245.9,354.4 L246.7,362.8 L247.3,359.8 L247.9,355.4 L248.5,356.2 L249.1,352.7 L249.8,351.0 L250.6,348.8 L251.4,349.7 L252.2,351.9 L252.8,349.0 L253.3,347.1 L253.9,343.3 L254.5,340.3 L255.1,341.4 L255.7,339.1 L256.2,339.9 L256.8,338.0 L257.4,340.4 L258.0,341.2 L258.5,338.9 L259.1,340.3 L259.7,342.9 L260.3,341.1 L260.9,343.6 L261.5,346.5 L262.1,345.8 L262.6,351.3 L263.2,350.2 L263.8,353.5 L264.9,345.0 L265.6,348.6 L266.2,352.0 L266.9,355.8 L267.6,351.9 L268.4,348.1 L269.2,347.5 L270.0,348.1 L270.6,345.9 L271.2,345.4 L271.9,340.7 L272.5,338.8 L273.1,335.7 L273.7,334.4 L274.2,330.4 L274.8,326.6 L275.4,325.6 L276.0,323.9 L276.6,325.0 L277.2,320.6 L277.8,321.7 L278.4,322.9 L279.0,326.9 L279.5,328.5 L280.1,329.5 L280.8,326.4 L281.6,324.3 L282.3,320.2 L282.9,321.0 L283.5,319.9 L284.1,320.0 L284.7,322.6 L285.3,323.2 L285.9,326.5 L286.4,325.9 L287.0,328.0 L287.6,326.6 L288.2,326.4 L288.9,325.1 L289.5,326.6 L290.1,326.4 L290.8,322.8 L291.4,322.6 L292.1,317.1 L292.7,317.9 L293.3,320.5 L293.8,321.5 L294.4,322.0 L294.9,327.5 L295.5,328.8 L296.1,326.5 L296.7,322.0 L297.4,321.6 L298.0,321.1 L298.6,318.7 L299.2,318.9 L299.8,321.2 L300.3,322.0 L300.9,321.8 L301.5,321.3 L302.1,319.5 L302.7,319.4 L303.3,316.4 L303.9,318.4 L304.5,319.3 L305.0,317.2 L305.6,321.0 L306.2,320.8 L306.8,319.9 L307.3,316.6 L307.9,315.6 L308.5,313.5 L309.2,314.8 L309.8,310.9 L310.5,306.9 L311.1,307.9 L311.8,305.5 L312.5,310.3 L313.1,307.9 L313.8,310.9 L314.6,321.6 L315.3,331.1 L315.9,329.5 L316.6,323.2 L317.2,319.5 L317.8,319.2 L318.4,318.7 L318.9,315.4 L319.5,315.6 L320.1,314.3 L320.7,313.6 L321.3,313.1 L321.9,310.9 L322.5,311.1 L323.0,311.1 L323.6,310.2 L324.2,311.7 L324.8,314.2 L325.4,318.6 L325.9,320.5 L326.5,323.3 L327.1,318.2 L327.8,314.0 L328.4,310.9 L329.1,314.0 L329.7,311.9 L330.4,310.2 L331.0,311.9 L331.5,308.9 L332.1,313.8 L332.7,314.0 L333.3,313.7 L333.9,314.2 L334.4,311.7 L335.0,310.2 L335.8,312.8 L336.6,315.6 L337.3,312.1 L337.9,304.9 L338.6,303.2 L339.2,303.7 L339.9,302.1 L340.6,300.0 L341.2,300.1 L341.8,302.1 L342.4,303.1 L343.0,299.5 L343.6,301.6 L344.2,298.0 L344.8,296.3 L345.4,293.1 L346.1,296.2 L346.7,298.3 L347.4,301.6 L348.0,299.4 L348.6,302.1 L349.3,299.7 L349.9,295.9 L350.5,296.2 L351.3,289.7 L352.1,285.9 L352.7,287.3 L353.2,285.6 L353.8,285.9 L354.4,282.8 L355.2,279.7 L356.0,275.0 L356.6,275.9 L357.2,278.1 L357.8,274.4 L358.3,270.4 L359.4,274.3 L360.0,271.1 L360.5,272.1 L361.1,272.4 L361.6,272.4 L362.2,271.2 L362.8,269.7 L363.3,269.8 L363.9,269.9 L364.4,269.2 L365.0,268.1 L365.7,270.4 L366.4,271.4 L367.1,272.7 L367.8,268.6 L368.4,265.0 L369.1,261.4 L369.9,256.4 L370.5,256.1 L371.0,254.6 L371.6,254.5 L372.2,254.9 L372.8,254.9 L373.4,254.8 L374.0,255.1 L374.6,254.9 L375.4,253.7 L376.1,252.6 L376.7,251.8 L377.2,250.5 L377.8,248.1 L378.4,248.7 L379.2,248.0 L380.0,246.5 L380.6,247.4 L381.1,246.2 L381.7,245.0 L382.3,244.8 L383.0,242.6 L383.7,238.1 L384.4,236.6 L385.1,235.6 L385.7,239.4 L386.4,240.7 L387.0,242.9 L387.6,246.5 L388.2,243.1 L388.9,236.7 L389.5,233.7 L390.1,230.4 L390.8,232.1 L391.4,233.1 L392.2,240.7 L392.9,237.8 L393.7,232.0 L394.3,229.4 L394.9,227.3 L395.7,233.8 L396.5,243.0 L397.2,238.7 L397.9,237.1 L398.6,233.1 L399.2,233.5 L399.7,233.0 L400.3,232.6 L400.9,231.7 L401.5,228.5 L402.1,235.3 L402.7,240.5 L403.3,246.5 L403.9,248.5 L404.5,251.2 L405.0,251.6 L405.6,251.7 L406.2,251.1 L406.7,247.1 L407.3,246.5 L407.9,241.1 L408.5,236.0 L409.2,236.1 L410.0,234.9 L410.8,227.3 L411.4,229.1 L412.0,231.4 L412.6,228.9 L413.1,225.0 L413.7,228.0 L414.3,230.2 L414.9,230.4 L415.4,228.4 L416.0,227.9 L417.0,234.9 L417.8,226.2 L418.6,240.7 L419.4,238.4 L420.1,231.4 L420.9,223.3 L421.5,228.9 L422.1,232.6 L422.9,228.3 L423.6,224.4 L424.4,229.7 L425.1,234.9 L425.7,240.9 L426.3,243.0 L427.1,226.7 L427.7,226.7 L428.2,228.4 L428.8,227.9 L429.4,227.5 L430.0,224.8 L430.6,223.3 L431.7,219.2 L432.3,220.4 L432.9,223.3 L433.5,222.5 L434.1,221.5 L434.9,223.3 L435.6,224.4 L436.3,220.7 L437.0,215.1 L437.6,213.0 L438.1,209.9 L438.7,210.5 L439.3,211.0 L439.9,209.0 L440.5,205.8 L441.1,205.2 L441.6,203.7 L442.2,202.3 L442.9,200.6 L443.5,198.8 L444.2,200.8 L444.8,204.3 L445.5,205.8 L446.1,201.2 L446.8,198.3 L447.4,195.7 L448.0,194.9 L448.6,192.5 L449.2,193.4 L449.9,189.8 L450.5,184.7 L451.2,184.1 L451.9,186.3 L452.6,191.0 L453.3,193.4 L454.1,199.0 L454.8,203.5 L455.6,195.3 L456.4,187.2 L457.0,188.7 L457.6,189.2 L458.2,192.6 L458.8,195.6 L459.5,194.8 L460.1,195.0 L460.9,201.4 L461.6,205.8 L462.4,198.0 L463.2,191.9 L463.9,190.9 L464.5,188.0 L465.2,189.5 L465.8,189.9 L466.4,189.5 L466.9,185.4 L467.5,187.2 L468.1,187.5 L468.6,188.8 L469.2,186.2 L469.8,188.8 L470.6,187.7 L471.4,190.3 L472.1,184.7 L472.9,181.0 L473.7,173.0 L474.5,166.3 L475.2,166.9 L475.8,171.0 L476.5,173.3 L477.3,175.4 L478.1,177.1 L478.7,174.2 L479.3,170.7 L479.9,166.3 L480.5,167.2 L481.0,165.8 L481.6,161.7 L482.2,162.4 L483.0,166.9 L483.8,172.5 L484.6,178.9 L485.3,187.2 L486.1,192.3 L486.9,199.6 L487.5,194.5 L488.0,189.6 L488.6,185.1 L489.2,179.5 L489.8,175.2 L490.4,173.3 L491.0,172.5 L491.6,170.2 L492.3,167.9 L492.9,165.7 L493.6,164.0 L494.7,183.3 L495.4,178.2 L496.2,173.3 L496.8,164.2 L497.3,156.2 L498.0,156.0 L498.6,154.6 L499.3,153.1 L500.1,156.1 L500.9,159.3 L501.6,165.7 L502.4,173.3 L503.0,176.2 L503.5,176.1 L504.1,181.4 L504.7,185.7 L505.4,180.5 L506.2,175.3 L507.1,190.4 L507.7,182.9 L508.4,179.2 L509.0,173.3 L509.8,176.9 L510.5,180.3 L511.1,174.5 L511.8,171.7 L512.4,167.9 L513.2,168.7 L514.0,170.2 L514.7,180.3 L515.2,158.6 L515.8,156.3 L516.5,153.6 L517.1,150.0 L517.7,144.9 L518.2,138.7 L518.8,134.5 L519.4,129.6 L520.1,126.4 L520.9,123.4 L521.7,120.6 L522.5,116.4 L523.1,116.8 L523.6,115.5 L524.2,114.7 L524.8,116.4 L525.4,110.3 L526.0,104.8 L526.6,103.2 L527.3,101.9 L527.9,102.5 L528.5,97.0 L529.1,91.6 L529.7,95.6 L530.2,100.2 L531.0,98.0 L531.8,95.5 L532.3,93.2 L532.9,90.1 L533.6,88.9 L534.4,88.5 L535.2,93.6 L536.0,94.0 L536.6,100.3 L537.2,107.1 L538.0,111.0 L538.8,112.6 L539.4,114.3 L540.0,116.9 L540.6,117.2 L541.4,107.9 L542.2,103.3 L542.9,99.5 L543.5,97.9 L544.2,94.7 L545.3,99.4 L546.0,98.1 L546.6,98.2 L547.3,93.2 L548.0,98.6 L548.8,103.3 L549.6,114.2 L550.4,122.6 L551.1,117.5 L551.9,111.0 L552.5,109.7 L553.0,107.1 L553.8,106.5 L554.6,104.8 L555.4,107.0 L556.1,109.5 L557.1,118.0 L557.7,117.0 L558.3,113.7 L558.9,113.3 L559.7,112.6 L560.5,109.5 L561.2,107.7 L562.0,107.9 L562.6,113.6 L563.3,118.8 L563.9,124.3 L564.5,124.7 L565.1,128.1 L565.9,129.7 L566.7,131.2 L567.3,130.1 L567.9,127.3 L568.5,129.6 L569.0,131.9 L569.5,127.1 L570.1,123.4 L570.7,127.8 L571.3,131.9 L572.0,124.3 L572.6,115.7 L573.6,112.6 L574.2,120.0 L574.7,126.5 L575.4,133.6 L576.0,142.0 L576.7,163.3 L577.8,172.6 L578.8,163.3 L579.4,166.0 L580.0,166.7 L580.6,165.6 L581.2,173.0 L581.9,180.3 L582.6,181.4 L583.4,181.9 L584.0,197.4 L584.5,164.8 L585.2,162.8 L586.0,161.7 L586.7,162.2 L587.4,158.2 L588.1,157.8 L588.7,167.1 L589.4,169.8 L590.0,170.2 L590.7,172.6 L591.8,180.3 L592.4,197.4 L593.3,186.5 L594.1,178.1 L594.9,171.0 L595.6,166.2 L596.2,161.3 L596.9,154.0 L597.7,168.7 L598.5,175.3 L599.2,181.9 L599.9,177.0 L600.5,173.3 L601.2,180.7 L602.0,186.5 L602.8,195.8 L603.6,205.1 L604.2,209.2 L604.7,212.9 L605.5,215.1 L606.2,214.4 L607.0,206.7 L607.6,209.4 L608.2,210.5 L608.8,202.0 L609.6,192.6 L610.4,184.2 L611.0,188.6 L611.6,189.6 L612.2,180.3 L612.9,171.0 L613.5,169.3 L614.1,165.1 L614.7,163.3 L615.5,165.6 L616.3,167.9 L616.9,167.4 L617.5,169.5 L618.3,164.3 L619.1,155.5 L619.8,148.3 L620.5,138.8 L621.3,145.8 L622.0,138.1 L622.6,131.5 L623.3,127.2 L623.8,125.2 L624.4,128.7 L625.0,126.6 L625.5,127.2 L626.2,128.7 L627.0,130.3 L627.7,127.6 L628.3,125.5 L629.0,123.3 L629.8,127.2 L630.6,120.3 L631.4,115.6 L632.1,124.9 L632.8,121.1 L633.4,115.4 L634.1,113.3 L634.7,114.4 L635.2,115.6 L636.0,111.3 L636.8,106.3 L637.5,109.4 L638.3,111.7 L639.1,106.1 L639.9,100.9 L640.6,92.1 L641.4,85.0 L642.1,87.0 L642.7,88.1 L643.4,90.5 L644.2,90.9 L645.0,88.1 L645.8,89.7 L646.6,89.7 L647.4,84.5 L648.1,79.6 L648.9,74.5 L649.7,70.3 L650.5,66.5 L651.2,64.1 L652.0,62.0 L652.8,61.8 L653.5,65.7 L654.3,70.3 L654.8,75.2 L655.4,79.6 L656.1,87.1 L656.9,93.6 L657.4,75.0 L658.0,75.9 L658.7,78.0 L659.3,75.7 L659.9,80.2 L660.5,85.8 L661.2,82.7 L662.0,79.6 L662.8,88.6 L663.6,92.0 L664.2,98.7 L664.7,108.0 L665.8,85.8 L666.5,80.3 L667.3,75.7 L668.1,76.5 L668.9,77.0 L669.8,57.5 L670.7,59.0 L671.7,69.0 L672.7,73.6 L673.1,69.3 L674.1,61.0 L674.9,48.6 L675.5,48.6 L676.4,52.1 L677.4,44.3 L678.1,47.4 L679.1,46.7 L679.7,44.3 L680.2,41.6 L680.7,47.0 L681.1,43.0 L681.6,48.0 L682.0,44.0 L682.5,47.8 L683.0,43.0 L683.4,46.0 L683.8,42.4 L684.4,38.9 L685.0,45.9 L685.9,46.7 L686.5,53.3 L687.0,65.0 L687.4,76.0 L687.9,83.0 L688.3,89.0 L688.8,76.0 L689.2,84.0 L689.7,75.0 L690.1,84.0 L690.6,75.0 L691.0,83.5 L691.5,76.0 L692.2,73.6 L693.0,71.3 L693.5,63.9 L694.5,74.4 L695.1,71.5 L695.7,68.0 L696.5,60.5 L697.1,58.8 L697.7,57.5" fill="none" stroke="#5b6670" stroke-width="1.1" stroke-linejoin="round"/>
<path d="M19.1,437.4 L19.7,434.1 L20.2,433.5 L20.8,431.0 L21.4,432.8 L22.1,431.8 L22.7,433.0 L23.3,432.8 L23.9,435.3 L24.4,437.1 L25.0,439.0 L25.6,439.0 L26.2,434.3 L26.9,431.5 L27.5,430.5 L28.0,433.3 L28.6,433.5 L29.2,433.5 L29.8,436.4 L30.4,436.9 L30.9,436.8 L31.5,438.0 L32.4,433.5 L33.1,437.4 L33.7,444.8 L34.4,446.0 L35.0,448.0 L35.5,449.8 L36.1,451.8 L36.7,455.5 L37.4,451.1 L38.2,446.7 L38.9,442.0 L39.5,438.6 L40.2,435.9 L40.9,433.3 L41.5,430.0 L42.1,430.1 L42.8,429.9 L43.4,428.1 L44.0,427.2 L44.9,431.0 L45.5,426.9 L46.0,427.0 L46.6,424.0 L47.3,422.8 L48.1,424.7 L48.8,425.3 L49.6,429.0 L50.5,421.5 L51.1,420.3 L51.8,422.3 L52.4,422.7 L53.0,424.3 L53.7,427.0 L54.5,422.4 L55.3,417.5 L56.1,423.1 L56.9,422.7 L57.5,427.3 L58.2,432.0 L59.0,435.5 L59.8,437.4 L60.4,420.2 L61.0,417.7 L61.7,418.0 L62.4,418.1 L63.0,416.4 L63.6,416.9 L64.2,418.1 L64.7,418.5 L65.3,419.0 L66.0,418.8 L66.6,421.6 L67.3,422.0 L67.9,412.5 L68.5,413.8 L69.2,418.9 L69.8,419.0 L70.3,414.4 L70.9,410.5 L71.7,409.9 L72.4,408.2 L73.0,400.9 L73.6,393.5 L74.2,396.6 L74.9,397.0 L75.5,399.7 L76.1,399.7 L76.7,397.4 L77.4,397.9 L78.0,396.1 L78.6,394.3 L79.2,392.5 L79.8,389.5 L80.3,389.3 L80.9,386.5 L81.5,385.9 L82.1,386.1 L82.7,382.6 L83.3,381.9 L83.9,381.4 L84.4,380.1 L85.0,378.7 L85.6,377.2 L86.4,373.3 L87.0,373.9 L87.6,374.3 L88.1,373.8 L88.7,374.9 L89.3,371.6 L89.8,370.2 L90.4,369.2 L91.0,366.4 L91.6,367.4 L92.2,366.0 L92.7,365.3 L93.3,363.3 L93.9,366.5 L94.5,368.7 L95.2,370.5 L95.8,373.4 L96.4,374.9 L97.1,375.1 L97.7,370.9 L98.4,369.5 L99.2,370.8 L100.0,373.3 L100.8,367.8 L101.6,358.6 L102.2,358.7 L102.9,359.3 L103.5,359.0 L104.2,357.8 L105.0,363.3 L105.6,361.4 L106.2,364.9 L106.7,363.5 L107.3,360.9 L107.9,364.0 L108.4,367.6 L109.0,369.8 L109.6,372.6 L110.2,373.9 L110.8,377.1 L111.3,380.0 L111.9,381.9 L112.5,381.0 L113.1,378.4 L113.7,375.5 L114.3,373.3 L114.9,372.7 L115.4,368.2 L116.0,367.8 L116.6,364.8 L117.2,365.5 L117.8,363.3 L118.3,361.0 L118.9,362.5 L119.5,363.2 L120.1,366.3 L120.6,368.4 L121.2,369.5 L121.8,373.4 L122.4,372.6 L123.0,375.9 L123.6,378.0 L124.2,379.3 L124.8,379.0 L125.3,377.0 L125.9,380.3 L126.5,379.3 L127.1,379.2 L127.8,375.9 L128.4,371.9 L129.0,371.0 L129.6,372.5 L130.2,375.2 L130.7,379.7 L131.3,378.8 L131.9,379.1 L132.4,378.1 L133.0,379.4 L133.6,377.2 L134.3,379.7 L135.0,384.5 L135.7,385.0 L136.3,379.6 L136.9,375.2 L137.5,371.0 L138.3,367.8 L139.1,363.3 L139.7,367.4 L140.2,369.1 L140.8,371.1 L141.4,373.3 L142.0,370.2 L142.6,370.3 L143.3,369.4 L143.9,368.4 L144.5,367.9 L145.1,369.9 L145.7,370.2 L146.2,372.9 L146.8,373.3 L147.4,374.2 L148.0,374.5 L148.7,375.8 L149.3,376.9 L149.9,377.2 L150.7,381.1 L151.5,383.4 L152.6,420.0 L153.2,409.9 L153.8,400.5 L154.4,401.8 L154.9,402.0 L155.5,407.0 L156.1,406.7 L156.7,407.3 L157.3,404.6 L158.0,403.3 L158.6,401.6 L159.2,402.0 L159.8,402.8 L160.4,403.5 L161.1,406.4 L161.7,404.7 L162.3,405.1 L163.1,405.9 L163.9,408.2 L164.5,409.3 L165.1,416.9 L165.7,419.1 L166.4,414.7 L167.1,407.9 L167.8,405.1 L168.4,403.8 L168.9,400.2 L169.5,404.5 L170.1,398.9 L170.7,401.6 L171.3,402.5 L171.9,403.4 L172.6,400.6 L173.2,395.8 L173.9,395.7 L174.7,388.6 L175.4,381.7 L176.0,379.1 L176.6,380.8 L177.2,376.9 L177.8,378.6 L178.4,375.6 L179.0,375.7 L179.6,372.4 L180.3,375.3 L180.9,373.1 L181.6,375.5 L182.7,381.7 L183.4,376.6 L184.0,376.0 L184.7,371.6 L185.4,371.5 L186.0,368.4 L186.7,368.5 L187.2,367.1 L187.8,366.6 L188.3,365.4 L188.9,366.2 L189.6,369.8 L190.2,376.4 L190.9,379.4 L191.5,382.1 L192.1,385.6 L192.7,385.1 L193.3,387.1 L193.9,390.9 L194.5,394.9 L195.6,384.8 L196.3,385.0 L196.9,387.3 L197.6,388.7 L198.2,384.7 L198.9,381.6 L199.5,380.9 L200.1,383.3 L200.7,385.7 L201.2,386.5 L201.8,387.1 L202.4,393.1 L202.9,396.3 L203.5,399.7 L204.1,405.0 L204.7,406.1 L205.4,406.7 L206.0,408.1 L206.8,412.5 L207.5,418.9 L208.2,413.9 L208.8,411.0 L209.5,409.6 L210.2,407.8 L210.9,406.2 L211.6,404.2 L212.3,408.8 L213.1,414.3 L213.7,417.7 L214.4,418.1 L215.0,419.7 L215.6,428.3 L216.2,436.0 L216.8,431.1 L217.5,422.7 L218.1,417.4 L218.7,413.2 L219.2,414.4 L219.8,410.8 L220.4,409.6 L221.0,409.8 L221.6,407.3 L222.1,406.7 L222.7,404.2 L223.5,397.2 L224.1,398.3 L224.7,395.2 L225.2,398.6 L225.8,398.0 L226.6,404.2 L227.3,400.1 L228.1,397.2 L228.7,396.5 L229.3,397.0 L230.0,398.6 L230.6,398.8 L231.2,398.0 L231.9,398.9 L232.6,395.6 L233.3,397.2 L233.9,397.6 L234.5,396.8 L235.1,400.3 L235.7,402.0 L236.4,404.6 L237.0,405.7 L237.7,401.0 L238.3,398.2 L239.0,394.1 L239.8,393.1 L240.5,391.8 L241.1,391.6 L241.8,388.3 L242.4,387.9 L243.1,388.5 L243.7,390.2 L244.4,392.6 L245.0,397.1 L245.6,398.9 L246.1,400.0 L246.7,402.6 L247.3,401.7 L247.9,400.4 L248.5,399.4 L249.1,398.0 L249.7,397.6 L250.2,397.2 L250.8,396.0 L251.4,397.2 L252.0,395.9 L252.6,397.9 L253.1,396.1 L253.7,394.9 L254.3,390.7 L255.0,386.4 L255.6,385.9 L256.2,385.9 L256.8,385.6 L257.4,386.8 L258.0,386.4 L258.5,388.2 L259.1,388.7 L259.7,390.1 L260.3,390.1 L260.9,391.2 L261.5,393.3 L262.1,392.6 L262.6,392.9 L263.2,395.5 L263.8,394.9 L264.6,389.8 L265.3,388.7 L266.0,392.5 L266.7,396.3 L267.4,401.1 L268.4,388.7 L269.0,387.4 L269.6,387.7 L270.2,388.3 L270.8,386.4 L271.4,384.5 L272.0,382.3 L272.5,379.8 L273.1,378.6 L273.7,377.2 L274.3,377.2 L275.0,374.4 L275.6,372.4 L276.2,372.4 L276.8,371.7 L277.4,372.7 L277.9,373.1 L278.5,375.5 L279.2,378.2 L280.0,379.1 L280.6,377.0 L281.2,374.5 L281.8,373.6 L282.5,374.8 L283.1,372.5 L283.7,371.8 L284.4,373.3 L285.0,372.5 L285.8,376.8 L286.4,377.5 L287.0,375.0 L287.6,375.0 L288.1,375.7 L288.7,377.6 L289.3,376.8 L290.1,376.0 L290.9,372.9 L291.5,371.3 L292.2,373.5 L292.8,372.1 L293.6,374.5 L294.3,377.6 L295.1,379.5 L295.9,382.2 L296.6,379.8 L297.4,378.3 L298.4,372.1 L299.4,378.3 L300.0,373.7 L300.9,378.3 L301.6,374.1 L302.2,373.9 L302.9,372.3 L303.5,373.4 L304.2,373.3 L304.8,374.8 L305.4,375.7 L306.0,376.0 L306.7,374.1 L307.5,376.0 L308.3,374.1 L309.1,369.8 L309.7,372.2 L310.4,368.2 L311.0,367.9 L311.8,370.6 L312.4,369.3 L313.0,371.5 L313.5,371.5 L314.1,373.3 L314.9,382.2 L315.8,384.5 L316.4,377.6 L317.1,368.3 L317.8,369.4 L318.4,367.5 L318.9,364.0 L319.5,359.7 L320.3,357.9 L321.1,357.4 L321.9,356.5 L322.6,353.9 L323.4,354.8 L324.2,354.7 L324.8,355.4 L325.3,358.2 L326.1,358.1 L326.9,359.0 L327.7,346.6 L328.4,344.6 L329.0,343.1 L329.7,341.5 L330.4,339.6 L331.0,338.4 L331.5,338.3 L332.1,336.6 L332.7,336.5 L333.3,336.8 L333.9,340.9 L334.4,341.0 L335.0,341.9 L335.8,343.5 L336.6,344.3 L337.2,340.5 L337.8,340.2 L338.3,339.4 L338.9,336.5 L339.5,336.0 L340.0,339.7 L340.6,339.0 L341.2,340.4 L341.8,341.8 L342.4,342.1 L343.1,343.4 L343.7,345.4 L344.3,345.0 L345.1,341.5 L345.9,338.8 L346.5,342.0 L347.0,340.7 L347.6,341.9 L348.2,344.3 L348.8,343.9 L349.4,340.7 L349.9,340.3 L350.5,339.6 L351.3,335.8 L352.1,330.3 L352.7,330.9 L353.2,326.7 L353.8,328.6 L354.4,327.2 L355.0,328.4 L355.5,326.6 L356.1,324.0 L356.7,323.3 L357.4,322.1 L358.1,322.0 L358.8,321.8 L359.4,322.1 L360.0,324.6 L360.6,326.4 L361.2,326.1 L361.8,326.0 L362.5,327.3 L363.1,325.6 L363.7,325.7 L364.3,325.2 L364.9,329.2 L365.4,327.9 L366.0,330.3 L366.6,331.6 L367.3,333.8 L367.9,335.7 L368.5,332.3 L369.0,328.5 L369.6,326.4 L370.2,325.8 L370.7,328.1 L371.3,324.6 L371.9,324.7 L372.4,325.5 L373.0,324.1 L373.6,325.7 L374.1,326.5 L374.7,327.4 L375.3,327.2 L376.0,325.7 L376.7,327.7 L377.4,329.5 L378.0,328.9 L378.7,328.5 L379.4,328.7 L380.0,326.4 L380.6,326.8 L381.1,325.8 L381.7,325.9 L382.3,325.7 L382.9,324.5 L383.5,324.0 L384.1,323.6 L384.7,321.8 L385.4,322.4 L386.0,322.9 L386.7,324.9 L387.2,328.6 L387.8,333.4 L388.4,333.9 L389.0,333.3 L389.5,332.2 L390.1,330.3 L390.7,330.6 L391.3,330.1 L391.9,328.5 L392.5,328.6 L393.1,327.3 L393.7,326.0 L394.3,326.7 L395.0,326.0 L395.6,327.4 L396.2,326.5 L396.8,325.1 L397.3,324.8 L397.9,324.6 L398.4,324.8 L399.0,322.6 L399.6,322.7 L400.3,323.5 L401.0,326.5 L401.6,326.5 L402.4,329.4 L403.2,334.3 L403.9,335.6 L404.5,335.2 L405.2,336.6 L405.8,334.2 L406.3,331.9 L406.9,329.2 L407.5,331.6 L408.0,329.6 L408.6,329.6 L409.2,329.5 L409.8,333.9 L410.3,333.3 L410.9,333.5 L411.5,337.9 L412.1,334.7 L412.7,334.2 L413.3,335.0 L413.9,336.1 L414.5,338.8 L415.0,337.9 L415.6,338.9 L416.2,338.6 L416.8,337.9 L417.3,335.5 L417.9,335.8 L418.5,337.3 L419.0,337.9 L419.6,338.4 L420.2,341.2 L420.8,342.6 L421.4,342.8 L422.0,342.5 L422.6,342.8 L423.2,341.0 L423.8,338.9 L424.3,341.0 L424.9,339.7 L425.6,343.9 L426.4,348.2 L427.1,344.7 L427.7,345.1 L428.4,343.6 L428.9,340.1 L429.5,340.1 L430.1,338.5 L430.6,336.6 L431.3,337.0 L431.9,336.8 L432.6,336.6 L433.2,336.2 L433.8,334.1 L434.4,334.4 L435.0,334.3 L435.8,331.5 L436.5,329.6 L437.1,327.9 L437.6,327.1 L438.2,326.1 L438.7,325.8 L439.3,322.6 L439.9,320.8 L440.6,325.1 L441.2,325.7 L441.8,324.5 L442.4,326.4 L442.9,323.9 L443.5,321.9 L444.2,319.7 L444.8,321.8 L445.5,321.1 L446.1,322.7 L446.6,325.0 L447.4,320.8 L448.1,314.9 L448.7,313.3 L449.3,314.0 L449.9,313.5 L450.5,313.3 L451.1,312.4 L451.7,311.2 L452.3,311.0 L453.0,313.9 L453.6,319.5 L454.4,322.2 L455.1,324.2 L455.9,321.2 L456.7,316.4 L457.4,318.7 L458.2,321.1 L458.8,319.0 L459.4,319.4 L459.9,318.8 L460.5,317.2 L461.1,316.6 L461.7,316.4 L462.3,317.7 L462.9,315.7 L463.6,312.0 L464.4,310.2 L465.0,309.2 L465.5,307.3 L466.1,308.3 L466.7,308.7 L467.3,308.4 L467.9,308.7 L468.5,309.6 L469.1,311.0 L469.7,314.2 L470.3,313.4 L470.9,314.9 L471.6,313.5 L472.2,314.8 L472.9,311.0 L473.7,305.5 L474.5,300.2 L475.1,299.4 L475.6,303.0 L476.2,302.6 L476.8,304.8 L477.4,305.5 L477.9,301.2 L478.5,300.9 L479.0,298.7 L479.6,299.4 L480.2,299.7 L480.9,298.6 L481.6,299.9 L482.2,300.2 L483.0,307.1 L483.6,308.0 L484.3,309.5 L485.3,325.7 L486.4,332.7 L487.1,329.4 L487.7,328.7 L488.4,325.0 L489.1,324.2 L489.8,321.4 L490.5,319.5 L491.2,316.2 L491.9,313.7 L492.6,312.6 L493.3,317.0 L494.0,323.6 L494.7,325.0 L495.4,321.4 L496.0,317.9 L496.7,315.7 L497.4,313.9 L498.2,313.3 L498.8,313.9 L499.5,315.9 L500.1,318.8 L501.2,320.0 L501.9,336.3 L502.6,333.7 L503.2,333.3 L503.9,329.3 L504.6,331.2 L505.4,333.2 L506.2,328.5 L507.0,324.7 L507.8,324.5 L508.5,327.0 L509.1,325.5 L509.7,323.5 L510.3,320.3 L510.9,320.0 L511.5,319.2 L512.0,320.8 L512.6,322.4 L513.2,321.6 L514.0,319.4 L514.7,316.2 L515.4,315.4 L516.0,313.8 L516.7,313.1 L517.3,311.1 L518.0,308.4 L518.6,306.1 L519.2,307.2 L519.8,302.1 L520.3,301.6 L520.9,300.7 L521.5,301.0 L522.1,298.0 L522.7,298.8 L523.3,296.0 L523.9,295.7 L524.5,295.8 L525.0,295.0 L525.6,295.2 L526.2,294.4 L526.8,295.6 L527.3,300.1 L527.9,298.3 L528.7,296.6 L529.5,293.7 L530.2,294.6 L531.0,294.5 L531.6,293.7 L532.3,291.5 L532.9,289.0 L533.5,291.2 L534.1,290.6 L534.7,291.7 L535.3,292.9 L535.9,296.3 L536.6,297.2 L537.2,299.9 L537.8,298.0 L538.4,298.8 L538.9,298.1 L539.5,298.3 L540.3,298.9 L541.1,298.3 L541.9,294.2 L542.6,291.4 L543.2,289.4 L543.8,289.5 L544.4,290.9 L545.0,288.3 L545.8,288.6 L546.5,289.0 L547.1,288.0 L547.6,286.7 L548.2,285.9 L548.8,284.4 L549.3,286.9 L549.9,288.3 L550.5,288.1 L551.0,283.0 L551.6,284.7 L552.1,281.4 L552.7,279.7 L553.3,278.9 L553.8,281.5 L554.4,278.1 L554.9,280.0 L555.5,277.4 L556.1,279.5 L556.8,278.3 L557.4,280.5 L558.0,281.3 L558.5,281.7 L559.1,281.0 L559.7,281.3 L560.5,277.7 L561.2,278.2 L561.9,278.1 L562.6,278.5 L563.3,279.0 L563.9,279.7 L564.5,284.5 L565.1,284.4 L565.7,283.3 L566.2,282.4 L566.8,281.7 L567.4,281.3 L568.0,279.8 L568.6,279.3 L569.2,279.7 L569.8,279.0 L570.5,279.6 L571.3,279.7 L571.9,276.8 L572.6,275.0 L573.2,272.8 L573.9,273.0 L574.5,277.0 L575.2,278.2 L576.3,288.3 L577.2,301.4 L578.0,296.1 L578.8,292.1 L579.4,293.6 L580.0,293.8 L580.6,296.0 L581.4,301.0 L582.2,306.9 L583.0,308.2 L583.7,309.2 L584.4,302.1 L585.0,296.8 L585.6,296.8 L586.2,291.6 L586.8,289.0 L587.4,290.7 L588.0,291.7 L588.5,296.1 L589.1,296.0 L589.9,298.4 L590.7,298.3 L591.5,303.6 L592.2,308.4 L593.0,303.6 L593.8,301.4 L594.3,297.2 L594.9,293.7 L595.6,292.8 L596.2,290.0 L596.9,289.0 L597.5,297.2 L598.0,306.9 L598.6,308.4 L599.2,311.5 L599.9,308.6 L600.5,306.9 L601.2,312.3 L602.0,317.7 L602.8,324.1 L603.6,331.7 L604.4,338.4 L605.1,345.0 L605.7,342.6 L606.4,336.0 L607.0,328.6 L607.6,330.6 L608.2,334.0 L609.3,322.4 L610.1,319.2 L610.9,315.4 L611.6,314.7 L612.4,313.8 L613.2,307.6 L614.0,301.7 L614.6,303.5 L615.1,302.5 L615.7,303.1 L616.3,304.1 L617.0,301.6 L617.6,299.9 L618.3,297.9 L618.9,297.5 L619.6,295.1 L620.2,292.4 L621.0,292.4 L621.7,294.8 L622.3,291.2 L623.0,287.7 L623.6,285.5 L624.3,285.1 L624.9,283.2 L625.6,281.6 L626.2,282.4 L626.8,281.1 L627.3,278.8 L627.9,280.8 L628.5,281.7 L629.0,281.9 L629.6,282.6 L630.2,282.4 L631.0,282.4 L631.8,284.7 L632.5,280.9 L633.3,276.9 L634.0,275.3 L634.6,274.6 L635.3,275.0 L636.0,273.8 L636.7,276.0 L637.3,276.4 L638.0,279.3 L638.7,273.7 L639.3,269.2 L640.0,268.4 L640.6,265.4 L641.3,265.0 L641.9,261.4 L642.5,262.4 L643.1,261.1 L643.7,264.5 L644.4,262.5 L645.0,262.9 L645.7,261.4 L646.3,262.9 L646.9,262.0 L647.5,260.7 L648.1,259.9 L648.9,256.6 L649.6,252.9 L650.2,251.7 L650.8,252.4 L651.3,252.5 L651.9,252.9 L652.7,253.7 L653.5,256.0 L654.2,261.1 L655.0,266.1 L655.8,270.0 L656.6,274.6 L657.2,269.0 L657.7,263.0 L658.4,265.1 L659.0,264.9 L659.7,264.5 L660.8,270.7 L661.5,271.5 L662.3,271.5 L663.0,274.3 L663.6,276.0 L664.3,280.8 L665.1,275.3 L665.9,270.0 L666.6,266.6 L667.4,262.2 L668.2,261.3 L669.0,262.2 L669.8,259.0 L670.5,253.7 L671.3,256.9 L672.1,260.7 L672.8,260.1 L673.4,258.3 L674.1,257.6 L674.9,251.0 L675.7,246.7 L676.3,248.6 L676.9,245.0 L677.5,245.9 L678.3,247.9 L679.1,248.3 L679.9,245.9 L680.6,244.4 L681.2,246.6 L681.9,248.3 L682.5,244.6 L683.1,242.1 L683.7,239.7 L684.5,242.9 L685.3,244.4 L686.0,251.4 L686.5,260.0 L687.1,266.1 L687.8,260.8 L688.4,256.8 L689.0,260.3 L689.6,263.8 L690.2,266.3 L690.7,267.6 L691.5,261.3 L692.2,256.0 L693.3,253.7 L694.0,259.3 L694.6,263.8 L695.4,258.8 L696.1,255.2 L696.9,252.7 L697.7,249.0" fill="none" stroke="#1e88e5" stroke-width="1.1" stroke-linejoin="round"/>
<g shape-rendering="crispEdges" stroke="#989ea3" stroke-width="1"><line x1="677" y1="38.5" x2="691" y2="38.5"/><line x1="30" y1="456.5" x2="44" y2="456.5"/></g>
<rect x="0.5" y="0.5" width="710" height="497" fill="none" stroke="#ffff00" stroke-width="1" shape-rendering="crispEdges"/>
<text x="705" y="40.0" font-size="16" letter-spacing="0.1" fill="#4d565d">240 %</text>
<text x="705" y="97.4" font-size="16" letter-spacing="0.77" fill="#4d565d">220 %</text>
<text x="705" y="154.9" font-size="16" letter-spacing="0.77" fill="#4d565d">200 %</text>
<text x="705" y="212.3" font-size="16" letter-spacing="0.5" fill="#4d565d">180 %</text>
<text x="705" y="269.7" font-size="16" letter-spacing="0.1" fill="#4d565d">160 %</text>
<text x="705" y="327.1" font-size="16" letter-spacing="-0.17" fill="#4d565d">140 %</text>
<text x="705" y="384.6" font-size="16" letter-spacing="0.5" fill="#4d565d">120 %</text>
<text x="705" y="442.0" font-size="16" letter-spacing="0.5" fill="#4d565d">100 %</text>
<text transform="translate(83.1,60.4) rotate(-90)" font-size="17" letter-spacing="0.33" fill="#4a535b">2015</text>
<text transform="translate(218.5,60.4) rotate(-90)" font-size="17" letter-spacing="0.33" fill="#4a535b">2016</text>
<text transform="translate(354.0,60.4) rotate(-90)" font-size="17" letter-spacing="0.33" fill="#4a535b">2017</text>
<text transform="translate(489.4,60.4) rotate(-90)" font-size="17" letter-spacing="0.33" fill="#4a535b">2018</text>
<text transform="translate(624.9,60.4) rotate(-90)" font-size="17" letter-spacing="0.33" fill="#4a535b">2019</text>
<g font-size="21" fill="#2b3942"><text x="19.4" y="13" letter-spacing="0.93">30.08.2019</text><text x="146.6" y="13">-</text><text x="160.7" y="13">Kurs:</text><text x="216.1" y="13" letter-spacing="0.95">232,2799</text></g>
<text x="19" y="497.7" font-size="16" letter-spacing="0" fill="#222" xml:space="preserve">154,7%HL</text>
<text x="127" y="497.7" font-size="16" letter-spacing="0" fill="#222" xml:space="preserve">Intervall: 1 Tag</text>
<text x="261" y="497.7" font-size="16" letter-spacing="0.35" fill="#222" xml:space="preserve">Hoch: 238,4392</text>
<text x="405" y="497.7" font-size="16" letter-spacing="-0.08" fill="#222" xml:space="preserve">Tief:  93,615</text>
</svg></body></html>
